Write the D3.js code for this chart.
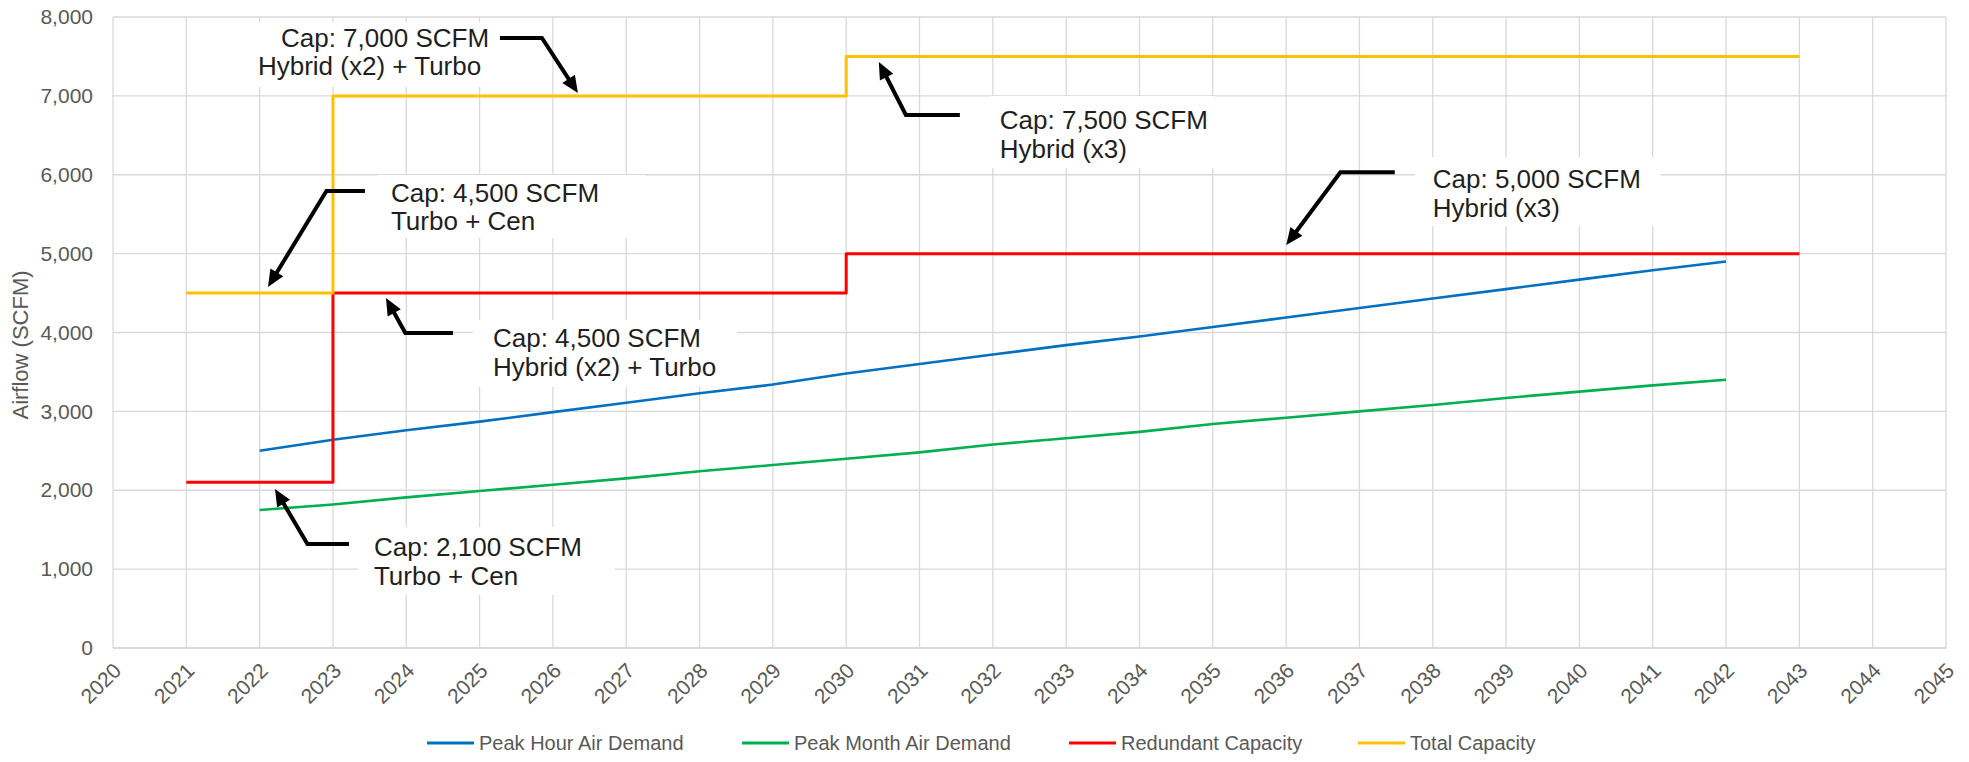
<!DOCTYPE html>
<html>
<head>
<meta charset="utf-8">
<script src="https://cdn.jsdelivr.net/npm/d3@7"></script>
<style>
  body { margin: 0; background: #fff; }
  svg { display: block; font-family: "Liberation Sans", Arial, sans-serif; }
</style>
</head>
<body>
<div id="chart"></div>
<script>
// data
const xTicks = [2020, 2021, 2022, 2023, 2024, 2025, 2026, 2027, 2028, 2029, 2030, 2031, 2032,
  2033, 2034, 2035, 2036, 2037, 2038, 2039, 2040, 2041, 2042, 2043, 2044, 2045];
const yTicks = [0, 1000, 2000, 3000, 4000, 5000, 6000, 7000, 8000];

const demandYears = [2022, 2023, 2024, 2025, 2026, 2027, 2028, 2029, 2030, 2031, 2032,
  2033, 2034, 2035, 2036, 2037, 2038, 2039, 2040, 2041, 2042];
const peakHour = [2500, 2640, 2760, 2870, 2990, 3110, 3230, 3340, 3480, 3600, 3720,
  3840, 3950, 4070, 4190, 4310, 4430, 4550, 4670, 4790, 4900];
const peakMonth = [1750, 1820, 1910, 1990, 2070, 2150, 2240, 2320, 2400, 2480, 2580,
  2660, 2740, 2840, 2920, 3000, 3080, 3170, 3250, 3330, 3400];

const capYears = [2021, 2023, 2023, 2030, 2030, 2043];
const redundantCap = [2100, 2100, 4500, 4500, 5000, 5000];
const totalCap = [4500, 4500, 7000, 7000, 7500, 7500];

const seriesNames = ['Peak Hour Air Demand', 'Peak Month Air Demand', 'Redundant Capacity', 'Total Capacity'];
const seriesColors = ['#0070C0', '#00B050', '#FF0000', '#FFC000'];

// callouts: text lines, text start (year, value), box corners, arrow path ending at the tip
const callouts = [
  { lines: [['Cap: 7,000 SCFM', 23], ['Hybrid (x2) + Turbo', 0]], at: [2021.977, 7620],
    box: [2021.80, 7937, 2025.236, 7113],
    arrow: [[2025.277, 7734], [2025.850, 7734], [2026.341, 7036]] },
  { lines: [['Cap: 7,500 SCFM', 0], ['Hybrid (x3)', 0]], at: [2032.095, 6580],
    box: [2031.959, 6998, 2035.027, 6086],
    arrow: [[2031.550, 6758], [2030.814, 6758], [2030.445, 7429]] },
  { lines: [['Cap: 4,500 SCFM', 0], ['Turbo + Cen', 0]], at: [2023.791, 5658],
    box: [2023.614, 5997, 2027.255, 5198],
    arrow: [[2023.436, 5794], [2022.911, 5794], [2022.114, 4577]] },
  { lines: [['Cap: 4,500 SCFM', 0], ['Hybrid (x2) + Turbo', 0]], at: [2025.182, 3816],
    box: [2024.909, 4158, 2028.509, 3309],
    arrow: [[2024.636, 3994], [2023.987, 3994], [2023.723, 4437]] },
  { lines: [['Cap: 2,100 SCFM', 0], ['Turbo + Cen', 0]], at: [2023.559, 1166],
    box: [2023.341, 1534, 2026.845, 672],
    arrow: [[2023.218, 1319], [2022.652, 1319], [2022.209, 2016]] },
  { lines: [['Cap: 5,000 SCFM', 0], ['Hybrid (x3)', 0]], at: [2038.0, 5828],
    box: [2037.755, 6225, 2041.11, 5350],
    arrow: [[2037.482, 6031], [2036.740, 6031], [2036.002, 5109]] }
];

const width = 1969, height = 762;
const margin = { top: 17, right: 23, bottom: 114, left: 113 };

const svg = d3.select('#chart').append('svg')
  .attr('width', width).attr('height', height);

const x = d3.scaleLinear().domain([2020, 2045]).range([margin.left, width - margin.right]);
const y = d3.scaleLinear().domain([0, 8000]).range([height - margin.bottom, margin.top]);

// grid
svg.append('g').selectAll('line').data(yTicks).join('line')
  .attr('x1', x(2020)).attr('x2', x(2045))
  .attr('y1', d => y(d)).attr('y2', d => y(d))
  .attr('stroke', '#d9d9d9').attr('stroke-width', d => d === 0 ? 2 : 1.3);
svg.append('g').selectAll('line').data(xTicks).join('line')
  .attr('x1', d => x(d)).attr('x2', d => x(d))
  .attr('y1', y(8000)).attr('y2', y(0))
  .attr('stroke', '#d9d9d9').attr('stroke-width', 1.3);

// axes
const yAxis = svg.append('g').attr('transform', `translate(${margin.left},0)`)
  .call(d3.axisLeft(y).tickValues(yTicks).tickFormat(d3.format(',')).tickSize(0).tickPadding(20));
yAxis.select('.domain').remove();
yAxis.selectAll('text').attr('font-size', 21).attr('fill', '#595959')
  .attr('font-family', '"Liberation Sans", Arial, sans-serif');

const xAxis = svg.append('g').attr('transform', `translate(0,${y(0)})`)
  .call(d3.axisBottom(x).tickValues(xTicks).tickFormat(d3.format('d')).tickSize(0));
xAxis.select('.domain').remove();
xAxis.selectAll('text')
  .attr('font-size', 21).attr('fill', '#595959')
  .attr('font-family', '"Liberation Sans", Arial, sans-serif')
  .attr('x', 0).attr('y', 0).attr('dy', 0)
  .attr('text-anchor', 'end')
  .attr('transform', 'translate(9,24) rotate(-45)');

svg.append('text')
  .attr('transform', 'translate(28,345) rotate(-90)')
  .attr('text-anchor', 'middle')
  .attr('font-size', 22).attr('fill', '#595959')
  .text('Airflow (SCFM)');

// series
const line = d3.line().x(d => x(d[0])).y(d => y(d[1]));
const series = [
  { pts: d3.zip(demandYears, peakHour), w: 2.6 },
  { pts: d3.zip(demandYears, peakMonth), w: 2.6 },
  { pts: d3.zip(capYears, redundantCap), w: 3 },
  { pts: d3.zip(capYears, totalCap), w: 3 }
];
svg.append('g').selectAll('path').data(series).join('path')
  .attr('d', d => line(d.pts))
  .attr('fill', 'none')
  .attr('stroke', (d, i) => seriesColors[i])
  .attr('stroke-width', d => d.w)
  .attr('stroke-linejoin', 'round');

// callouts
const cg = svg.append('g');
callouts.forEach(c => {
  cg.append('rect')
    .attr('x', x(c.box[0])).attr('y', y(c.box[1]))
    .attr('width', x(c.box[2]) - x(c.box[0]))
    .attr('height', y(c.box[3]) - y(c.box[1]))
    .attr('fill', '#fff');
  const t = cg.append('text')
    .attr('font-size', 26).attr('fill', '#1f1f1f');
  c.lines.forEach(([s, dx], i) => {
    t.append('tspan')
      .attr('x', x(c.at[0]) + dx)
      .attr('y', y(c.at[1]) + i * 28.5)
      .text(s);
  });

  const p = c.arrow.map(d => [x(d[0]), y(d[1])]);
  const tip = p[p.length - 1], prev = p[p.length - 2];
  const ang = Math.atan2(tip[1] - prev[1], tip[0] - prev[0]);
  const hl = 17, hw = 7.5;
  const base = [tip[0] - hl * Math.cos(ang), tip[1] - hl * Math.sin(ang)];
  const shaft = p.slice(0, -1).concat([[tip[0] - (hl - 3) * Math.cos(ang), tip[1] - (hl - 3) * Math.sin(ang)]]);
  cg.append('path')
    .attr('d', d3.line()(shaft))
    .attr('fill', 'none').attr('stroke', '#000').attr('stroke-width', 4)
    .attr('stroke-linejoin', 'miter');
  cg.append('path')
    .attr('d', d3.line()([
      tip,
      [base[0] + hw * Math.sin(ang), base[1] - hw * Math.cos(ang)],
      [base[0] - hw * Math.sin(ang), base[1] + hw * Math.cos(ang)]
    ]) + 'Z')
    .attr('fill', '#000');
});

// legend
const legendX = [427, 742, 1069, 1358];
const legend = svg.append('g').attr('transform', 'translate(0,743)');
const items = legend.selectAll('g').data(seriesNames).join('g')
  .attr('transform', (d, i) => `translate(${legendX[i]},0)`);
items.append('line')
  .attr('x1', 0).attr('x2', 47)
  .attr('stroke', (d, i) => seriesColors[i]).attr('stroke-width', 3);
items.append('text')
  .attr('x', 52).attr('dy', '0.35em')
  .attr('font-size', 20).attr('fill', '#595959')
  .text(d => d);
</script>
</body>
</html>
